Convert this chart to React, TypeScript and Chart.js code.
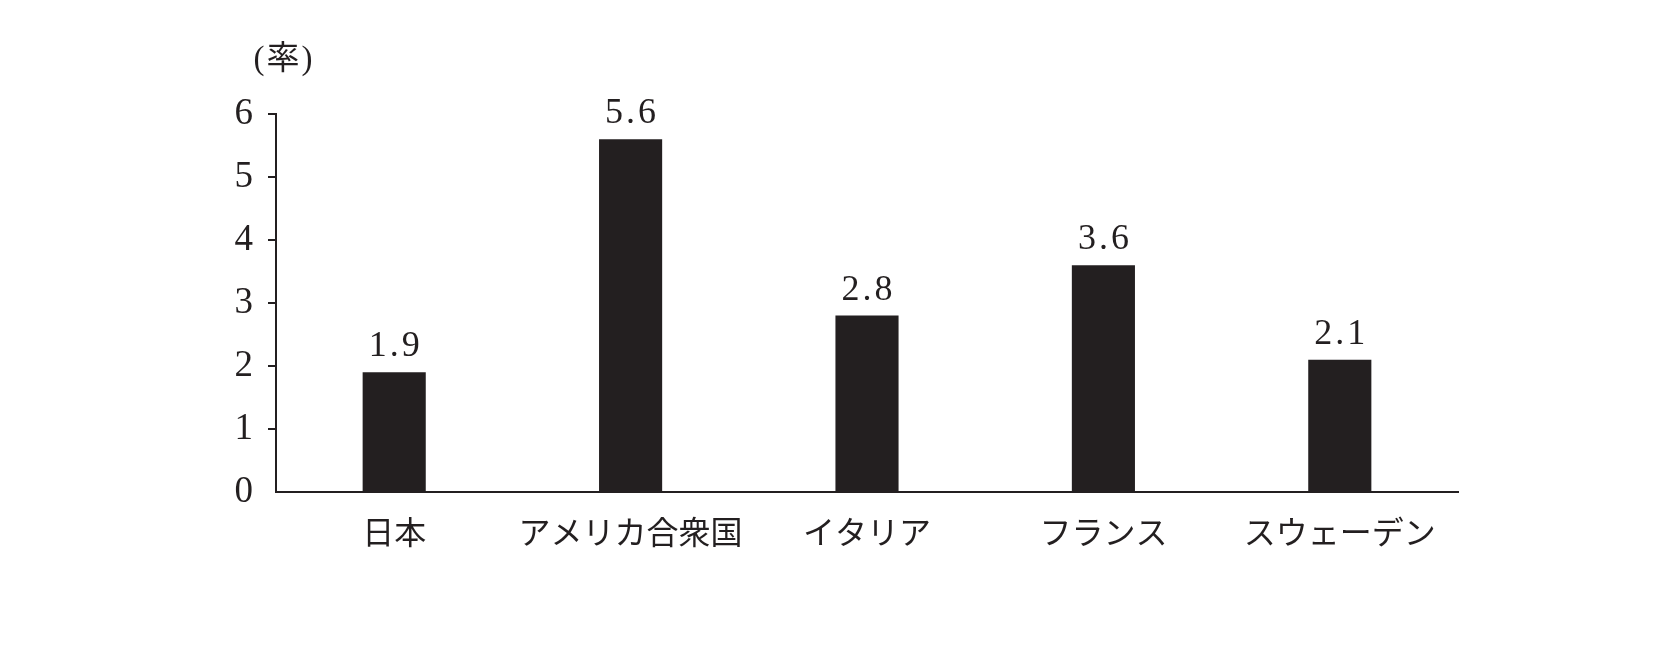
import React, { useEffect, useRef } from "react";
import { Chart, registerables } from "chart.js";

Chart.register(...registerables);

const categories = ["日本", "アメリカ合衆国", "イタリア", "フランス", "スウェーデン"];
const rates = [1.9, 5.6, 2.8, 3.6, 2.1];
const yTicks = [0, 1, 2, 3, 4, 5, 6];
const unitLabel = "(率)";

const INK = "#231f20";
const SERIF = "'Liberation Serif', 'Noto Sans CJK JP', serif";
const CJK = "'Noto Sans CJK JP', 'Liberation Serif', sans-serif";

const extrasPlugin = {
  id: "extras",
  afterDatasetsDraw(chart: any) {
    const { ctx, chartArea } = chart;
    ctx.save();
    ctx.fillStyle = INK;
    // value labels
    ctx.font = `36px ${SERIF}`;
    ctx.textAlign = "center";
    ctx.textBaseline = "alphabetic";
    try {
      (ctx as any).letterSpacing = "3px";
    } catch (e) {}
    const meta = chart.getDatasetMeta(0);
    meta.data.forEach((bar: any, i: number) => {
      ctx.fillText(rates[i].toFixed(1), bar.x + 1.5, bar.y - 16);
    });
    // unit label
    ctx.font = `33px ${SERIF}`;
    try {
      (ctx as any).letterSpacing = "2px";
    } catch (e) {}
    ctx.textAlign = "center";
    ctx.textBaseline = "middle";
    ctx.fillText(unitLabel, chartArea.left + 8, chartArea.top - 54);
    ctx.restore();
  },
};

export default function App() {
  const canvasRef = useRef<HTMLCanvasElement | null>(null);

  useEffect(() => {
    document.body.style.margin = "0";
    const canvas = canvasRef.current;
    if (!canvas) return;
    const chart = new Chart(canvas, {
      type: "bar",
      data: {
        labels: categories,
        datasets: [
          {
            data: rates,
            backgroundColor: INK,
            borderWidth: 0,
            barPercentage: 0.267,
            categoryPercentage: 1,
          },
        ],
      },
      options: {
        responsive: false,
        animation: false,
        devicePixelRatio: 1,
        layout: { padding: { top: 114, right: 203, left: 0, bottom: 0 } },
        plugins: {
          legend: { display: false },
          tooltip: { enabled: false },
          title: { display: false },
        },
        scales: {
          x: {
            type: "category",
            offset: true,
            grid: {
              display: true,
              drawOnChartArea: false,
              drawTicks: false,
              color: "rgba(0,0,0,0)",
            },
            border: { display: true, color: INK, width: 2 },
            ticks: {
              color: INK,
              font: { family: CJK, size: 32 },
              padding: 21,
              maxRotation: 0,
              autoSkip: false,
            },
            afterFit: (s: any) => {
              s.height = 154;
            },
          },
          y: {
            min: 0,
            max: 6,
            afterBuildTicks: (s: any) => {
              s.ticks = yTicks.map((v) => ({ value: v }));
            },
            ticks: {
              color: INK,
              font: { family: SERIF, size: 37 },
              padding: 15,
            },
            grid: {
              drawOnChartArea: false,
              drawTicks: true,
              tickLength: 8,
              lineWidth: 2,
              color: (c: any) =>
                c.tick && c.tick.value === 0 ? "rgba(0,0,0,0)" : INK,
            },
            border: { display: true, color: INK, width: 2 },
            afterFit: (s: any) => {
              s.width = 276;
            },
          },
        },
      },
      plugins: [extrasPlugin],
    });
    return () => chart.destroy();
  }, []);

  return (
    <div style={{ width: 1661, height: 646, background: "#fff" }}>
      <canvas
        ref={canvasRef}
        width={1661}
        height={646}
        style={{ display: "block", width: 1661, height: 646 }}
      />
    </div>
  );
}
